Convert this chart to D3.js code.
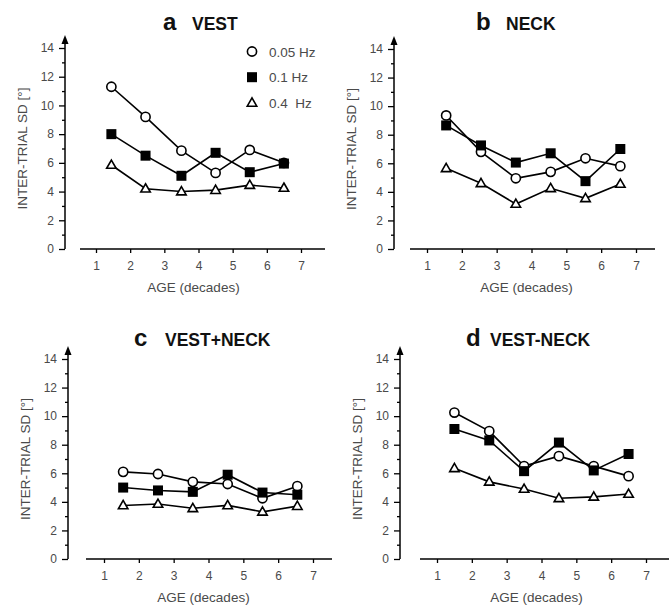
<!DOCTYPE html>
<html>
<head>
<meta charset="UTF-8">
<title>Inter-trial SD vs age</title>
<script src="https://d3js.org/d3.v7.min.js"></script>
<style>
  body { margin: 0; background: #fff; }
  svg { display: block; font-family: "Liberation Sans", Arial, sans-serif; }
  .tick-label { font-size: 12px; fill: #4a4a4a; }
  .axis-title { font-size: 13.5px; fill: #4a4a4a; }
  .legend text { font-size: 13.5px; fill: #4a4a4a; }
</style>
</head>
<body>
<script>
// ---- data ----
const seriesNames = ["0.05 Hz", "0.1 Hz", "0.4  Hz"];
const yTicks = [0, 2, 4, 6, 8, 10, 12, 14];
const xTicks = [1, 2, 3, 4, 5, 6, 7];

const agesA = [1.45, 2.45, 3.5, 4.5, 5.5, 6.5];
const vestLow = [11.3, 9.2, 6.85, 5.3, 6.9, 6.0];
const vestMid = [8.0, 6.5, 5.1, 6.7, 5.35, 5.95];
const vestHigh = [5.85, 4.2, 4.0, 4.1, 4.45, 4.25];

const agesB = [1.55, 2.55, 3.55, 4.55, 5.55, 6.55];
const neckLow = [9.35, 6.8, 4.95, 5.4, 6.35, 5.8];
const neckMid = [8.65, 7.25, 6.05, 6.7, 4.75, 7.0];
const neckHigh = [5.65, 4.6, 3.15, 4.25, 3.55, 4.55];

const agesC = [1.55, 2.55, 3.55, 4.55, 5.55, 6.55];
const sumLow = [6.1, 5.95, 5.4, 5.25, 4.25, 5.1];
const sumMid = [5.0, 4.8, 4.7, 5.9, 4.65, 4.5];
const sumHigh = [3.75, 3.85, 3.55, 3.75, 3.3, 3.7];

const agesD = [1.5, 2.5, 3.5, 4.5, 5.5, 6.5];
const diffLow = [10.25, 8.95, 6.5, 7.2, 6.5, 5.8];
const diffMid = [9.1, 8.3, 6.15, 8.15, 6.2, 7.35];
const diffHigh = [6.35, 5.4, 4.9, 4.25, 4.35, 4.55];

const width = 669, height = 606;
const svg = d3.select("body").append("svg")
  .attr("width", width)
  .attr("height", height);

// panel frames (pixel placement of each small plot)
const panels = [
  { letter: "a", name: "VEST", ages: agesA, series: [vestLow, vestMid, vestHigh],
    axisX: 65, y0: 249, y14: 48, lineX0: 80, lineX1: 325, x1: 96, x7: 301,
    letterX: 163, nameX: 192, titleY: 30, legend: true },
  { letter: "b", name: "NECK", ages: agesB, series: [neckLow, neckMid, neckHigh],
    axisX: 394, y0: 249, y14: 49, lineX0: 410, lineX1: 655, x1: 427, x7: 636,
    letterX: 476, nameX: 506, titleY: 30, legend: false },
  { letter: "c", name: "VEST+NECK", ages: agesC, series: [sumLow, sumMid, sumHigh],
    axisX: 68, y0: 559, y14: 359, lineX0: 86, lineX1: 332, x1: 104, x7: 313,
    letterX: 134, nameX: 165, titleY: 346, legend: false },
  { letter: "d", name: "VEST-NECK", ages: agesD, series: [diffLow, diffMid, diffHigh],
    axisX: 400, y0: 559, y14: 359, lineX0: 420, lineX1: 669, x1: 437, x7: 646,
    letterX: 466, nameX: 490, titleY: 346, legend: false }
];

function drawMarker(g, kind, cx, cy) {
  if (kind === 0) {
    g.append("circle").attr("cx", cx).attr("cy", cy).attr("r", 4.6)
      .attr("fill", "#fff").attr("stroke", "#000").attr("stroke-width", 1.6);
  } else if (kind === 1) {
    g.append("rect").attr("x", cx - 5).attr("y", cy - 5)
      .attr("width", 10).attr("height", 10).attr("fill", "#000");
  } else {
    const s = 9.5, h = s * 0.87;
    g.append("path")
      .attr("d", `M${cx},${cy - h * 0.6}L${cx + s / 2},${cy + h * 0.4}L${cx - s / 2},${cy + h * 0.4}Z`)
      .attr("fill", "#fff").attr("stroke", "#000").attr("stroke-width", 1.6)
      .attr("stroke-linejoin", "miter");
  }
}

panels.forEach(p => {
  const g = svg.append("g");
  const y = d3.scaleLinear().domain([0, 14]).range([p.y0, p.y14]);
  const x = d3.scaleLinear().domain([1, 7]).range([p.x1, p.x7]);

  // y axis with major ticks on even values and minor ticks on odd values
  const yAxis = d3.axisLeft(y).tickValues(yTicks).tickSize(6).tickPadding(5).tickFormat(d3.format("d"));
  const ya = g.append("g").attr("transform", `translate(${p.axisX},0)`).call(yAxis);
  ya.select(".domain").remove();
  ya.selectAll("line").attr("stroke", "#000").attr("stroke-width", 1.3);
  ya.selectAll("text").attr("class", "tick-label").attr("font-family", null).attr("font-size", null);
  const minor = d3.axisLeft(y).tickValues(d3.range(1, 14, 2)).tickSize(3).tickFormat("");
  const ym = g.append("g").attr("transform", `translate(${p.axisX},0)`).call(minor);
  ym.select(".domain").remove();
  ym.selectAll("line").attr("stroke", "#000").attr("stroke-width", 1.3);

  g.append("line").attr("x1", p.axisX).attr("x2", p.axisX)
    .attr("y1", p.y0).attr("y2", p.y14 - 8)
    .attr("stroke", "#000").attr("stroke-width", 1.5);
  g.append("path")
    .attr("d", `M${p.axisX},${p.y14 - 13}L${p.axisX + 3.5},${p.y14 - 4}L${p.axisX - 3.5},${p.y14 - 4}Z`)
    .attr("fill", "#000");

  // x axis: detached baseline with small downward ticks
  const xAxis = d3.axisBottom(x).tickValues(xTicks).tickSize(4).tickPadding(8).tickFormat(d3.format("d"));
  const xa = g.append("g").attr("transform", `translate(0,${p.y0})`).call(xAxis);
  xa.select(".domain").remove();
  xa.selectAll("line").attr("stroke", "#000").attr("stroke-width", 1.3);
  xa.selectAll("text").attr("class", "tick-label").attr("font-family", null).attr("font-size", null);
  g.append("line").attr("x1", p.lineX0).attr("x2", p.lineX1)
    .attr("y1", p.y0).attr("y2", p.y0)
    .attr("stroke", "#000").attr("stroke-width", 1.6);

  // axis titles
  g.append("text").attr("class", "axis-title")
    .attr("x", (p.x1 + p.x7) / 2 - 5).attr("y", p.y0 + 43)
    .attr("text-anchor", "middle").text("AGE (decades)");
  g.append("text").attr("class", "axis-title")
    .attr("transform", `translate(${p.axisX - 38},${(p.y0 + p.y14) / 2}) rotate(-90)`)
    .attr("text-anchor", "middle").text("INTER-TRIAL SD [°]");

  // panel title
  g.append("text").attr("x", p.letterX).attr("y", p.titleY)
    .attr("font-size", 24).attr("font-weight", "bold").attr("fill", "#111").text(p.letter);
  g.append("text").attr("x", p.nameX).attr("y", p.titleY)
    .attr("font-size", 17.5).attr("font-weight", "bold").attr("fill", "#111").text(p.name);

  // series lines then markers
  const line = d3.line().x((d, i) => x(p.ages[i])).y(d => y(d));
  p.series.forEach(vals => {
    g.append("path").datum(vals).attr("d", line)
      .attr("fill", "none").attr("stroke", "#000").attr("stroke-width", 1.6);
  });
  p.series.forEach((vals, k) => {
    vals.forEach((v, i) => drawMarker(g, k, x(p.ages[i]), y(v)));
  });

  if (p.legend) {
    const lg = g.append("g").attr("class", "legend");
    seriesNames.forEach((name, k) => {
      const ly = 51.5 + k * 25.7;
      drawMarker(lg, k, 252, ly);
      lg.append("text").attr("x", 269).attr("y", ly + 5)
        .attr("xml:space", "preserve").style("white-space", "pre").text(name);
    });
  }
});
</script>
</body>
</html>
